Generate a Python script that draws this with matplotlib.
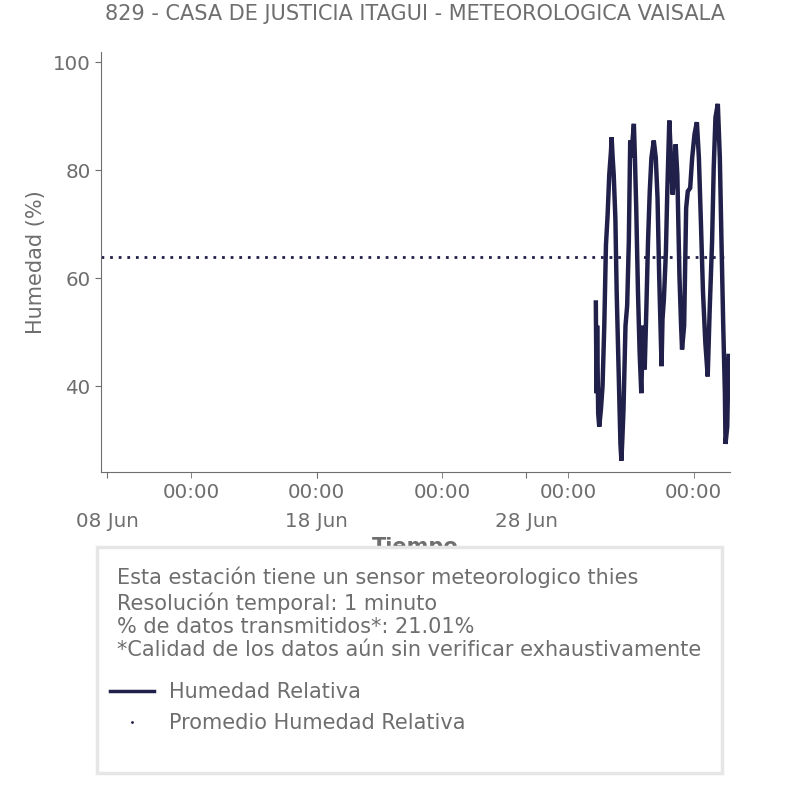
import matplotlib
matplotlib.use("Agg")
import matplotlib.pyplot as plt
import matplotlib.dates as mdates
from matplotlib.lines import Line2D
from matplotlib.patches import Rectangle
import pandas as pd

TITULO = "829 - CASA DE JUSTICIA ITAGUI - METEOROLOGICA VAISALA"
INICIO = "2023-07-01 08:00"

# horas desde INICIO y humedad relativa (%)
HORAS = [0.0, 0.8, 1.5, 2.7, 3.9, 5.8, 7.7, 9.7, 11.6, 13.5, 15.4, 17.4, 18.1,
         19.3, 20.5, 22.4, 23.9, 26.3, 28.2, 29.3, 30.5, 31.7, 34.0, 35.9,
         37.8, 39.4, 40.5, 41.7, 43.6, 44.8, 46.3, 48.3, 50.2, 52.1, 54.1,
         56.0, 57.9, 59.8, 61.8, 63.7, 66.4, 68.7, 70.7, 72.6, 74.1, 75.3,
         76.4, 78.0, 80.3, 81.9, 84.2, 86.1, 88.0, 89.6, 91.5, 93.4, 95.8,
         97.7, 98.8, 101.2, 103.5, 105.4, 108.1, 110.4, 113.1, 115.8, 118.1,
         120.5, 122.8, 125.5, 128.2, 130.5, 133.2, 135.1, 137.1, 139.8, 142.1,
         144.0, 146.0, 147.9, 148.6, 150.6, 152.1]
HUMEDAD = [55.5, 38.7, 51.2, 35.0, 32.5, 35.6, 40.0, 51.2, 66.1, 71.7, 79.2,
           83.6, 86.1, 82.3, 79.2, 71.1, 57.4, 41.8, 29.3, 26.2, 30.6, 35.6,
           51.2, 54.9, 66.7, 85.5, 82.3, 84.8, 88.6, 82.3, 73.0, 57.4, 46.2,
           38.7, 51.2, 43.1, 54.3, 66.7, 76.1, 82.3, 85.5, 82.3, 74.9, 60.5,
           51.2, 43.7, 52.4, 56.1, 64.9, 76.1, 89.2, 82.3, 75.5, 79.2, 84.8,
           79.2, 60.5, 51.2, 46.8, 51.2, 73.0, 76.1, 76.7, 82.3, 86.7, 88.9,
           82.3, 69.9, 57.4, 48.0, 41.8, 54.3, 66.7, 80.5, 89.8, 92.3, 82.3,
           66.7, 51.2, 38.7, 29.3, 32.5, 45.6]
PROMEDIO = 63.9

LIMITES_X = ("2023-06-07 17:00", "2023-07-07 17:45")
LIMITES_Y = (24.1, 101.9)

NOTAS = [
    "Esta estación tiene un sensor meteorologico thies",
    "Resolución temporal: 1 minuto",
    "% de datos transmitidos*: 21.01%",
    "*Calidad de los datos aún sin verificar exhaustivamente",
]
ETIQUETAS = ["Humedad Relativa", "Promedio Humedad Relativa"]

GRIS = "#6e6e6e"
AZUL = "#20204a"
FS_TICK = 14.3
FS = 15.0

tiempo = pd.Timestamp(INICIO) + pd.to_timedelta(HORAS, unit="h")

fig = plt.figure(figsize=(8.06, 8.06), dpi=100)
ax = fig.add_axes([101 / 806, 1 - 472 / 806, 629 / 806, 420 / 806])

ax.plot(tiempo, HUMEDAD, color=AZUL, lw=3.2, solid_joinstyle="miter")
ax.axhline(PROMEDIO, color=AZUL, lw=2, linestyle=(0, (1, 2.1)))

ax.set_xlim(pd.Timestamp(LIMITES_X[0]), pd.Timestamp(LIMITES_X[1]))
ax.set_ylim(*LIMITES_Y)
ax.set_yticks([40, 60, 80, 100])

ax.xaxis.remove_overlapping_locs = False
ax.xaxis.set_major_locator(mdates.DayLocator(bymonthday=[8, 18, 28]))
ax.xaxis.set_major_formatter(mdates.DateFormatter("%d %b"))
ax.xaxis.set_minor_locator(mdates.DayLocator(bymonthday=[6, 12, 18, 24, 30]))
ax.xaxis.set_minor_formatter(mdates.DateFormatter("%H:%M"))

for s in ("top", "right"):
    ax.spines[s].set_visible(False)
for s in ("left", "bottom"):
    ax.spines[s].set_color(GRIS)

ax.tick_params(axis="both", which="both", colors=GRIS, labelsize=FS_TICK, length=4)
ax.tick_params(axis="x", which="major", pad=25)
ax.tick_params(axis="x", which="minor", pad=4)

ax.set_ylabel("Humedad (%)", color=GRIS, fontsize=FS, labelpad=5)
ax.set_xlabel("Tiempo", color=GRIS, fontsize=FS, fontweight="bold", labelpad=4)

fig.text(415.5 / 806, 1 - 14 / 806, TITULO, color=GRIS, fontsize=FS,
         ha="center", va="center")

# recuadro de notas
caja = Rectangle((97 / 806, 1 - 773 / 806), 625 / 806, 226 / 806,
                 transform=fig.transFigure, facecolor="white",
                 edgecolor="#e6e6e6", lw=2.5, zorder=1)
fig.patches.append(caja)

fig.text(117 / 806, 1 - 567 / 806, "\n".join(NOTAS), color=GRIS, fontsize=FS,
         ha="left", va="top", linespacing=1.2, zorder=3)

manejadores = [
    Line2D([], [], color=AZUL, lw=2.5),
    Line2D([], [], color=AZUL, marker=".", ms=2, ls="none"),
]
fig.legend(manejadores, ETIQUETAS, loc="upper left",
           bbox_to_anchor=(110 / 806, 1 - 682 / 806), frameon=False,
           fontsize=FS, labelcolor=GRIS, handlelength=2.1, handletextpad=0.72,
           labelspacing=0.52, borderpad=0, borderaxespad=0)

fig.savefig("out.png", dpi=100)
